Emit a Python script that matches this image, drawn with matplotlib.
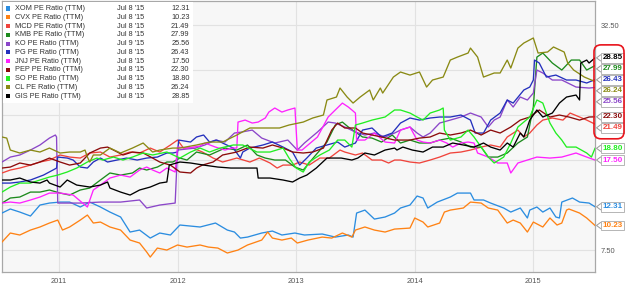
import matplotlib
matplotlib.use("Agg")
import matplotlib.pyplot as plt
from matplotlib.patches import Rectangle, FancyBboxPatch
from matplotlib.transforms import IdentityTransform, blended_transform_factory

# PE ratio (TTM) history, Jul 2010 - Jul 2015
tickers = ["XOM", "CVX", "MCD", "KMB", "KO", "PG", "JNJ", "PEP", "SO", "CL", "GIS"]
colors = ["#2b8de0", "#ff8214", "#f0443c", "#1d8a1d", "#8b46c9", "#2430bd",
          "#ff22ff", "#8b0b0b", "#22ee22", "#8a8a14", "#000000"]
last_dates = ["Jul 8 '15", "Jul 8 '15", "Jul 8 '15", "Jul 8 '15", "Jul 9 '15", "Jul 8 '15",
              "Jul 8 '15", "Jul 8 '15", "Jul 8 '15", "Jul 8 '15", "Jul 8 '15"]
last_values = [12.31, 10.23, 21.49, 27.99, 25.56, 26.43, 17.50, 22.30, 18.80, 26.24, 28.85]

xom_years = [2010.52, 2010.59, 2010.67, 2010.76, 2010.84, 2010.92, 2011.01, 2011.09, 2011.18, 2011.26,
             2011.35, 2011.43, 2011.52, 2011.60, 2011.68, 2011.77, 2011.85, 2011.94, 2012.02, 2012.19,
             2012.32, 2012.42, 2012.48, 2012.53, 2012.59, 2012.71, 2012.80, 2012.88, 2012.99, 2013.07,
             2013.22, 2013.33, 2013.44, 2013.48, 2013.51, 2013.58, 2013.66, 2013.75, 2013.83, 2013.88,
             2013.96, 2014.02, 2014.07, 2014.11, 2014.19, 2014.30, 2014.36, 2014.47, 2014.50, 2014.58,
             2014.64, 2014.75, 2014.81, 2014.89, 2014.95, 2014.97, 2015.03, 2015.08, 2015.14, 2015.19,
             2015.22, 2015.24, 2015.33, 2015.39, 2015.47, 2015.52]
xom_pe = [11.61, 12.06, 11.72, 11.28, 12.5, 12.72, 12.83, 12.83, 12.28, 12.83,
          12.28, 11.72, 11.17, 9.5, 9.72, 8.83, 9.39, 9.17, 10.28, 10.06,
          10.5, 9.72, 9.5, 8.83, 8.94, 9.39, 9.61, 9.17, 9.39, 9.17,
          9.28, 8.94, 9.17, 8.94, 11.61, 11.94, 10.94, 11.17, 11.61, 12.17,
          12.5, 13.5, 13.28, 12.17, 12.83, 13.39, 13.83, 13.83, 13.06, 13.06,
          12.72, 12.17, 11.72, 12.17, 11.06, 11.94, 12.28, 11.72, 12.17, 11.17,
          11.06, 12.83, 13.28, 12.83, 12.72, 12.31]

cvx_years = [2010.52, 2010.59, 2010.67, 2010.76, 2010.84, 2010.92, 2010.99, 2011.03, 2011.09, 2011.18,
             2011.24, 2011.29, 2011.35, 2011.43, 2011.52, 2011.60, 2011.68, 2011.74, 2011.77, 2011.83,
             2011.91, 2012.00, 2012.08, 2012.19, 2012.26, 2012.34, 2012.42, 2012.51, 2012.59, 2012.71,
             2012.76, 2012.80, 2012.88, 2012.96, 2013.01, 2013.10, 2013.22, 2013.30, 2013.39, 2013.47,
             2013.50, 2013.58, 2013.66, 2013.75, 2013.83, 2013.96, 2014.00, 2014.07, 2014.11, 2014.21,
             2014.25, 2014.30, 2014.41, 2014.47, 2014.56, 2014.62, 2014.70, 2014.78, 2014.83, 2014.89,
             2014.95, 2015.00, 2015.08, 2015.14, 2015.20, 2015.24, 2015.28, 2015.30, 2015.39, 2015.45,
             2015.52]
cvx_pe = [8.39, 9.39, 9.17, 9.72, 10.06, 10.5, 10.83, 9.72, 10.06, 10.83,
          11.39, 10.5, 10.61, 10.06, 9.72, 8.61, 8.28, 7.28, 6.72, 7.72,
          7.5, 8.06, 7.83, 8.06, 7.83, 7.72, 7.17, 7.5, 8.06, 8.61,
          9.5, 8.83, 8.61, 8.83, 8.28, 8.61, 8.94, 8.83, 9.39, 8.94,
          9.72, 10.06, 9.72, 9.5, 9.83, 9.94, 11.06, 10.61, 10.06, 10.5,
          11.72, 11.94, 12.17, 12.83, 12.72, 12.17, 11.94, 10.5, 10.83, 10.5,
          9.5, 10.61, 10.06, 11.06, 10.28, 10.5, 11.94, 12.06, 11.61, 11.06,
          10.23]

mcd_years = [2010.52, 2010.59, 2010.67, 2010.76, 2010.84, 2010.92, 2011.01, 2011.09, 2011.18, 2011.26,
             2011.35, 2011.43, 2011.52, 2011.60, 2011.68, 2011.77, 2011.85, 2011.94, 2012.00, 2012.05,
             2012.13, 2012.21, 2012.30, 2012.38, 2012.50, 2012.61, 2012.69, 2012.78, 2012.84, 2012.89,
             2012.97, 2013.03, 2013.11, 2013.20, 2013.28, 2013.37, 2013.41, 2013.50, 2013.56, 2013.64,
             2013.72, 2013.78, 2013.83, 2013.88, 2013.96, 2014.04, 2014.13, 2014.21, 2014.30, 2014.39,
             2014.47, 2014.56, 2014.64, 2014.72, 2014.78, 2014.87, 2014.92, 2014.97, 2015.03, 2015.08,
             2015.16, 2015.25, 2015.31, 2015.39, 2015.45, 2015.52]
mcd_pe = [16.06, 16.39, 16.61, 16.94, 17.28, 17.5, 18.06, 17.83, 17.72, 18.28,
          18.39, 17.83, 18.06, 18.39, 18.28, 18.83, 18.39, 19.17, 19.72, 18.83,
          18.83, 18.39, 17.72, 17.28, 17.72, 17.28, 17.72, 17.17, 16.61, 16.94,
          16.94, 17.28, 16.94, 17.72, 17.72, 18.61, 18.39, 18.06, 18.28, 17.5,
          17.5, 17.17, 17.5, 17.5, 17.28, 17.17, 17.5, 17.83, 18.28, 18.39,
          18.61, 18.94, 19.17, 18.94, 20.06, 20.83, 20.06, 20.5, 21.39, 21.94,
          22.17, 21.94, 22.72, 22.28, 21.94, 21.49]

kmb_years = [2010.52, 2010.59, 2010.67, 2010.76, 2010.84, 2010.92, 2011.01, 2011.09, 2011.18, 2011.26,
             2011.35, 2011.43, 2011.52, 2011.62, 2011.68, 2011.74, 2011.83, 2011.91, 2011.96, 2012.02,
             2012.08, 2012.16, 2012.27, 2012.40, 2012.50, 2012.59, 2012.67, 2012.74, 2012.82, 2012.91,
             2012.99, 2013.06, 2013.13, 2013.18, 2013.26, 2013.33, 2013.39, 2013.44, 2013.50, 2013.56,
             2013.64, 2013.72, 2013.81, 2013.88, 2013.96, 2014.04, 2014.13, 2014.21, 2014.30, 2014.39,
             2014.47, 2014.56, 2014.62, 2014.70, 2014.78, 2014.87, 2014.95, 2015.00, 2015.03, 2015.08,
             2015.16, 2015.24, 2015.32, 2015.39, 2015.45, 2015.52]
kmb_pe = [12.72, 13.28, 13.39, 13.94, 13.94, 14.17, 13.83, 13.61, 14.17, 14.39,
          15.28, 16.06, 15.83, 16.06, 16.61, 16.39, 16.72, 17.28, 17.28, 17.72,
          17.5, 18.39, 18.06, 18.83, 18.61, 19.17, 18.06, 17.72, 17.5, 17.5,
          16.72, 16.39, 17.5, 18.28, 19.5, 21.39, 21.72, 21.17, 20.61, 20.06,
          19.94, 19.5, 20.28, 19.39, 19.72, 19.39, 19.39, 19.72, 19.94, 19.5,
          18.94, 18.94, 17.83, 17.83, 18.28, 19.39, 20.06, 23.39, 28.94, 29.39,
          28.28, 27.5, 28.61, 28.61, 27.5, 27.99]

ko_years = [2010.52, 2010.59, 2010.67, 2010.76, 2010.84, 2010.92, 2010.97, 2010.98, 2010.99, 2011.03,
            2011.18, 2011.35, 2011.52, 2011.68, 2011.74, 2011.85, 2011.98, 2012.00, 2012.15, 2012.23,
            2012.32, 2012.40, 2012.48, 2012.54, 2012.63, 2012.71, 2012.82, 2012.93, 2013.01, 2013.07,
            2013.18, 2013.27, 2013.33, 2013.41, 2013.50, 2013.58, 2013.66, 2013.75, 2013.83, 2013.88,
            2013.96, 2014.02, 2014.07, 2014.13, 2014.21, 2014.30, 2014.39, 2014.47, 2014.56, 2014.62,
            2014.67, 2014.72, 2014.78, 2014.83, 2014.89, 2014.95, 2015.00, 2015.03, 2015.08, 2015.16,
            2015.24, 2015.36, 2015.47, 2015.52]
ko_pe = [17.28, 17.83, 18.06, 18.61, 19.17, 19.94, 20.28, 20.06, 12.72, 12.72,
         12.72, 12.83, 12.83, 13.06, 12.17, 12.5, 12.72, 18.61, 18.83, 19.17,
         19.72, 19.5, 20.5, 20.61, 20.83, 19.94, 19.39, 19.72, 18.61, 19.39,
         20.61, 21.72, 21.61, 21.17, 20.61, 20.28, 20.5, 20.06, 20.5, 20.83,
         21.17, 20.5, 20.06, 20.5, 21.61, 21.94, 22.28, 22.72, 22.28, 21.17,
         21.94, 22.28, 24.17, 23.39, 24.5, 24.17, 24.94, 27.5, 27.17, 26.39,
         26.39, 25.61, 25.5, 25.56]

pg_years = [2010.52, 2010.59, 2010.67, 2010.76, 2010.87, 2010.95, 2010.98, 2010.99, 2011.07, 2011.12,
            2011.18, 2011.24, 2011.29, 2011.35, 2011.41, 2011.49, 2011.57, 2011.66, 2011.74, 2011.83,
            2011.91, 2011.96, 2012.00, 2012.01, 2012.11, 2012.16, 2012.22, 2012.27, 2012.33, 2012.38,
            2012.47, 2012.53, 2012.55, 2012.61, 2012.72, 2012.80, 2012.89, 2012.97, 2013.03, 2013.09,
            2013.17, 2013.26, 2013.35, 2013.41, 2013.50, 2013.56, 2013.64, 2013.72, 2013.81, 2013.88,
            2013.96, 2014.04, 2014.13, 2014.21, 2014.30, 2014.39, 2014.47, 2014.51, 2014.58, 2014.64,
            2014.72, 2014.78, 2014.83, 2014.92, 2014.97, 2015.00, 2015.01, 2015.05, 2015.11, 2015.19,
            2015.28, 2015.36, 2015.45, 2015.52]
pg_pe = [14.94, 14.94, 15.06, 15.28, 15.83, 16.39, 16.61, 17.83, 17.72, 17.5,
         16.72, 16.61, 17.28, 17.72, 17.28, 17.5, 17.72, 17.5, 17.72, 17.83,
         18.28, 18.28, 18.39, 19.72, 19.5, 20.06, 20.28, 19.5, 19.72, 19.39,
         18.83, 17.72, 18.39, 18.83, 19.17, 19.5, 18.94, 18.39, 16.94, 17.72,
         18.83, 19.17, 19.5, 18.94, 19.39, 20.83, 21.06, 20.06, 20.5, 21.61,
         22.17, 21.94, 22.17, 22.28, 22.28, 22.5, 21.94, 20.5, 20.5, 21.94,
         22.72, 24.17, 23.83, 25.28, 25.61, 26.39, 28.61, 28.28, 26.72, 26.94,
         26.39, 26.39, 26.06, 26.43]

jnj_years = [2010.52, 2010.59, 2010.67, 2010.76, 2010.84, 2010.92, 2011.01, 2011.12, 2011.20, 2011.24,
             2011.29, 2011.35, 2011.43, 2011.52, 2011.60, 2011.68, 2011.74, 2011.79, 2011.85, 2011.91,
             2011.98, 2012.00, 2012.08, 2012.19, 2012.23, 2012.32, 2012.40, 2012.46, 2012.50, 2012.51,
             2012.57, 2012.63, 2012.68, 2012.74, 2012.77, 2012.82, 2012.88, 2012.93, 2012.99, 2013.01,
             2013.05, 2013.10, 2013.18, 2013.27, 2013.33, 2013.39, 2013.44, 2013.47, 2013.50, 2013.51,
             2013.58, 2013.66, 2013.75, 2013.83, 2013.88, 2013.96, 2014.02, 2014.07, 2014.13, 2014.21,
             2014.27, 2014.32, 2014.39, 2014.45, 2014.50, 2014.53, 2014.62, 2014.70, 2014.78, 2014.81,
             2014.87, 2014.95, 2015.03, 2015.14, 2015.24, 2015.36, 2015.45, 2015.52]
jnj_pe = [12.72, 12.83, 12.72, 13.06, 13.39, 13.83, 13.83, 13.61, 12.72, 12.28,
          14.17, 14.72, 15.5, 15.83, 15.61, 16.39, 16.72, 16.39, 16.06, 16.61,
          16.17, 18.94, 18.83, 19.06, 19.39, 18.94, 18.61, 18.83, 18.83, 21.72,
          21.94, 21.61, 21.72, 22.17, 22.83, 23.28, 22.83, 23.06, 23.28, 18.61,
          18.61, 19.17, 20.06, 22.28, 23.06, 23.83, 23.39, 23.06, 22.72, 19.72,
          19.72, 20.5, 19.5, 19.39, 20.83, 21.17, 19.72, 19.5, 19.39, 19.72,
          19.39, 18.94, 19.39, 19.5, 19.39, 18.28, 17.83, 17.17, 17.17, 16.06,
          17.17, 17.5, 17.83, 17.72, 17.83, 18.28, 17.83, 17.50]

pep_years = [2010.52, 2010.59, 2010.67, 2010.76, 2010.84, 2010.92, 2011.01, 2011.09, 2011.18, 2011.26,
             2011.35, 2011.41, 2011.46, 2011.54, 2011.62, 2011.71, 2011.79, 2011.85, 2011.94, 2012.02,
             2012.11, 2012.16, 2012.21, 2012.30, 2012.38, 2012.50, 2012.61, 2012.72, 2012.80, 2012.89,
             2012.97, 2013.06, 2013.14, 2013.23, 2013.30, 2013.35, 2013.41, 2013.50, 2013.56, 2013.64,
             2013.72, 2013.83, 2013.96, 2014.04, 2014.13, 2014.21, 2014.30, 2014.39, 2014.47, 2014.56,
             2014.64, 2014.72, 2014.81, 2014.89, 2014.97, 2015.05, 2015.14, 2015.22, 2015.30, 2015.39,
             2015.47, 2015.52]
pep_pe = [16.61, 16.72, 17.17, 16.94, 17.28, 17.72, 17.28, 16.94, 17.17, 18.28,
          18.83, 18.94, 18.61, 18.06, 18.39, 18.28, 17.72, 17.28, 16.94, 16.17,
          16.06, 16.61, 16.94, 17.28, 18.06, 18.39, 18.94, 18.83, 19.17, 18.83,
          18.39, 18.28, 18.39, 18.83, 20.83, 21.61, 21.06, 21.06, 20.5, 20.28,
          20.06, 19.72, 19.72, 19.94, 20.06, 20.5, 20.28, 20.5, 20.83, 20.28,
          20.83, 20.5, 21.17, 21.94, 22.28, 23.06, 22.28, 22.5, 22.28, 21.94,
          22.28, 22.30]

so_years = [2010.52, 2010.59, 2010.67, 2010.76, 2010.84, 2010.92, 2010.99, 2011.07, 2011.15, 2011.24,
            2011.32, 2011.37, 2011.46, 2011.54, 2011.62, 2011.71, 2011.79, 2011.91, 2012.02, 2012.11,
            2012.19, 2012.27, 2012.36, 2012.47, 2012.55, 2012.67, 2012.78, 2012.89, 2012.94, 2013.00,
            2013.06, 2013.11, 2013.20, 2013.28, 2013.35, 2013.41, 2013.47, 2013.50, 2013.56, 2013.64,
            2013.75, 2013.83, 2013.88, 2013.96, 2014.02, 2014.07, 2014.13, 2014.21, 2014.24, 2014.25,
            2014.30, 2014.39, 2014.45, 2014.50, 2014.56, 2014.62, 2014.67, 2014.75, 2014.81, 2014.87,
            2014.97, 2015.03, 2015.08, 2015.14, 2015.19, 2015.24, 2015.28, 2015.36, 2015.45, 2015.49,
            2015.52]
so_pe = [13.94, 14.5, 14.94, 14.94, 15.28, 15.61, 15.83, 16.17, 16.61, 17.28,
         17.72, 17.5, 17.83, 17.5, 17.83, 18.28, 18.06, 18.39, 17.72, 18.39,
         18.83, 18.39, 18.83, 19.17, 19.17, 18.39, 18.39, 18.83, 17.72, 16.61,
         16.17, 17.28, 18.06, 18.61, 19.72, 19.72, 18.94, 21.39, 21.61, 21.94,
         22.28, 23.06, 23.06, 22.72, 22.28, 21.94, 22.72, 23.06, 23.28, 20.83,
         19.72, 20.06, 20.83, 20.06, 18.94, 17.83, 17.17, 17.83, 19.39, 21.17,
         22.28, 24.17, 23.83, 21.61, 20.5, 19.72, 18.94, 18.94, 18.28, 17.83,
         18.80]

cl_years = [2010.52, 2010.56, 2010.59, 2010.67, 2010.76, 2010.84, 2010.92, 2011.01, 2011.09, 2011.18,
            2011.22, 2011.24, 2011.26, 2011.29, 2011.35, 2011.43, 2011.52, 2011.62, 2011.71, 2011.79,
            2011.85, 2011.96, 2012.02, 2012.16, 2012.27, 2012.38, 2012.50, 2012.61, 2012.72, 2012.86,
            2012.94, 2013.06, 2013.14, 2013.23, 2013.26, 2013.34, 2013.37, 2013.43, 2013.48, 2013.54,
            2013.62, 2013.65, 2013.71, 2013.73, 2013.82, 2013.88, 2013.96, 2014.04, 2014.10, 2014.15,
            2014.24, 2014.30, 2014.36, 2014.45, 2014.47, 2014.53, 2014.58, 2014.67, 2014.72, 2014.78,
            2014.81, 2014.87, 2014.92, 2015.00, 2015.04, 2015.12, 2015.17, 2015.26, 2015.29, 2015.34,
            2015.43, 2015.49, 2015.52]
cl_pe = [20.06, 19.94, 18.61, 18.28, 18.61, 18.39, 18.83, 18.28, 18.39, 18.39,
         18.61, 17.83, 17.28, 18.06, 18.06, 18.83, 18.28, 18.83, 19.39, 18.39,
         18.61, 18.83, 18.83, 19.17, 19.5, 19.5, 20.28, 21.06, 21.06, 21.06,
         21.39, 21.72, 22.17, 22.5, 24.17, 24.5, 25.5, 24.5, 23.83, 24.5,
         25.28, 24.17, 25.5, 24.94, 26.72, 27.28, 26.94, 27.28, 25.61, 26.39,
         26.72, 28.61, 28.94, 29.39, 29.94, 28.94, 26.72, 27.17, 27.17, 28.61,
         27.72, 29.94, 30.5, 31.06, 29.39, 29.5, 30.06, 29.5, 28.28, 27.5,
         26.72, 26.39, 26.24]

gis_years = [2010.52, 2010.59, 2010.67, 2010.76, 2010.84, 2010.90, 2010.92, 2011.01, 2011.07, 2011.15,
             2011.26, 2011.35, 2011.41, 2011.43, 2011.52, 2011.60, 2011.68, 2011.77, 2011.85, 2011.91,
             2011.93, 2012.02, 2012.11, 2012.22, 2012.34, 2012.45, 2012.56, 2012.67, 2012.68, 2012.78,
             2012.89, 2012.97, 2013.03, 2013.09, 2013.17, 2013.26, 2013.38, 2013.47, 2013.52, 2013.58,
             2013.66, 2013.75, 2013.83, 2013.85, 2013.90, 2013.98, 2014.07, 2014.15, 2014.24, 2014.32,
             2014.41, 2014.50, 2014.58, 2014.64, 2014.72, 2014.78, 2014.83, 2014.89, 2014.92, 2014.95,
             2014.97, 2015.03, 2015.08, 2015.16, 2015.22, 2015.28, 2015.36, 2015.39, 2015.40, 2015.45,
             2015.47, 2015.52]
gis_pe = [15.28, 15.28, 15.5, 15.06, 14.94, 15.28, 14.94, 14.5, 15.28, 14.72,
          14.5, 14.72, 15.06, 14.39, 13.94, 13.61, 14.17, 14.5, 14.94, 15.06,
          16.94, 17.28, 17.17, 16.94, 16.72, 16.61, 16.61, 16.61, 15.5, 15.5,
          15.28, 15.06, 15.5, 15.83, 16.61, 17.72, 17.72, 17.5, 17.72, 18.28,
          18.06, 18.61, 18.83, 18.61, 18.94, 18.61, 18.39, 18.94, 18.94, 19.39,
          19.17, 18.94, 19.39, 18.94, 18.61, 19.39, 18.94, 20.5, 20.06, 21.17,
          21.94, 23.06, 22.28, 22.72, 23.83, 24.5, 24.72, 24.17, 28.28, 28.61,
          28.28, 28.85]

years = [2011, 2012, 2013, 2014, 2015]
y_grid = [7.5, 12.5, 17.5, 22.5, 27.5, 32.5]

series = [(xom_years, xom_pe), (cvx_years, cvx_pe), (mcd_years, mcd_pe), (kmb_years, kmb_pe),
          (ko_years, ko_pe), (pg_years, pg_pe), (jnj_years, jnj_pe), (pep_years, pep_pe),
          (so_years, so_pe), (cl_years, cl_pe), (gis_years, gis_pe)]

W, H = 640, 287
plt.rcParams['font.family'] = ['Liberation Sans', 'DejaVu Sans']
fig = plt.figure(figsize=(W / 100, H / 100), dpi=100)
ax = fig.add_axes([2 / W, 15 / H, 593 / W, 271 / H])
ax.set_facecolor("#f7f7f7")

for (t, v), c in zip(series, colors):
    ax.plot(t, v, color=c, lw=0.95, zorder=3)

ax.set_xlim(2010.52, 2015.52)
ax.set_ylim(5.06, 35.17)
ax.set_xticks(years)
ax.set_xticklabels([str(y) for y in years])
ax.set_yticks(y_grid)
ax.set_yticklabels(["%.2f" % v if v in (y_grid[0], y_grid[-1]) else "" for v in y_grid])
ax.yaxis.tick_right()
ax.tick_params(axis="both", length=0, labelsize=5.4, labelcolor="#555555")
ax.tick_params(axis="x", pad=4.5)
ax.tick_params(axis="y", pad=4)
ax.grid(True, color="#e2e2e2", lw=0.8, zorder=0)
for side in ["left", "right", "top", "bottom"]:
    ax.spines[side].set_color("#a8a8a8")
    ax.spines[side].set_linewidth(0.9)

# legend block (top-left)
def fx(px):
    return px / W

def fy(py):
    return 1 - py / H

fig.add_artist(Rectangle((fx(2.5), fy(103)), (193 - 2.5) / W, 100.5 / H,
                         transform=fig.transFigure, fc="white", ec="none", zorder=4))
for i, (name, c) in enumerate(zip(tickers, colors)):
    yc = 8.6 + 8.75 * i
    fig.add_artist(Rectangle((fx(5.5), fy(yc + 2.1)), 4 / W, 4.2 / H,
                             transform=fig.transFigure, fc=c, ec="none", zorder=5))
    fig.text(fx(15), fy(yc), name + " PE Ratio (TTM)", fontsize=5.3, color="#333333",
             va="center", ha="left", zorder=6)
    fig.text(fx(117), fy(yc), last_dates[i], fontsize=5.3, color="#333333",
             va="center", ha="left", zorder=6)
    fig.text(fx(189.5), fy(yc), "%.2f" % last_values[i], fontsize=5.3, color="#333333",
             va="center", ha="right", zorder=6)

# value flags at the right edge, spread so they don't overlap
order = sorted(range(len(tickers)), key=lambda k: -last_values[k])
gap = 1.22
flag_pos = {}
prev = None
for k in order:
    p = last_values[k] if prev is None else min(last_values[k], prev - gap)
    flag_pos[k] = p
    prev = p

trans = blended_transform_factory(ax.transAxes, ax.transData)
ax_px = 593.0
for k in order:
    p = flag_pos[k]
    ax.plot([1 + 5.5 / ax_px, 1 + 1.5 / ax_px, 1 + 5.5 / ax_px], [p + 0.33, p, p - 0.33],
            transform=trans, color="#999999", lw=0.7, clip_on=False, zorder=5)
    ax.text(1 + 7.5 / ax_px, p, "%.2f" % last_values[k], transform=trans, fontsize=5.8,
            color=colors[k], fontweight="bold", va="center", ha="left", clip_on=False, zorder=6,
            bbox=dict(boxstyle="square,pad=0.18", fc="white", ec="#aaaaaa", lw=0.6))

# red highlight around the seven highest readings
top7 = order[:7]
y_top = ax.transData.transform((0, flag_pos[top7[0]]))[1] + 13
y_bot = ax.transData.transform((0, flag_pos[top7[-1]]))[1] - 11
x_left = ax.transAxes.transform((1, 0))[0] - 1
fig.add_artist(FancyBboxPatch((x_left, y_bot), 30, y_top - y_bot,
                              boxstyle="round,pad=0,rounding_size=7",
                              transform=IdentityTransform(), fill=False,
                              ec="#e8141c", lw=1.2, zorder=7))

fig.savefig("out.png", dpi=100)
